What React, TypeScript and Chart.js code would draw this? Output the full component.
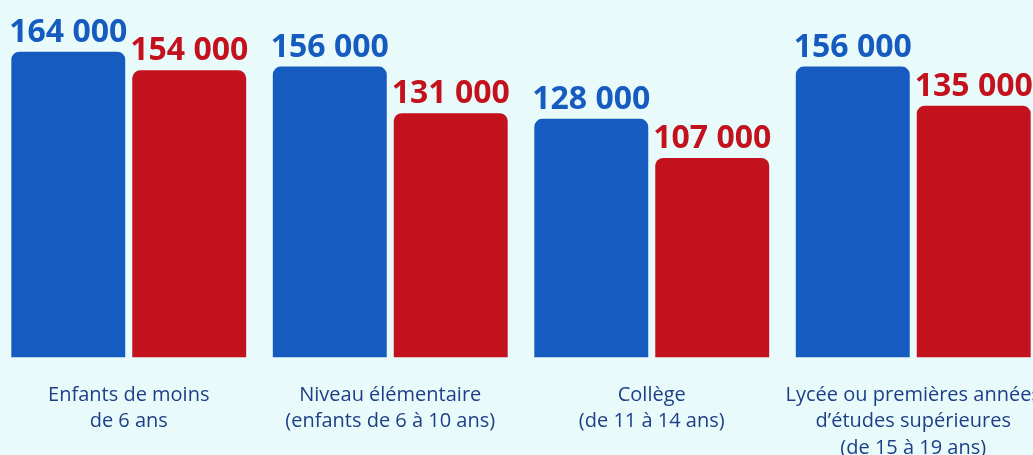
import React, { useEffect, useRef } from "react";
import { Chart, registerables } from "chart.js";

Chart.register(...registerables);

const categories: string[][] = [
  ["Enfants de moins", "de 6 ans"],
  ["Niveau élémentaire", "(enfants de 6 à 10 ans)"],
  ["Collège", "(de 11 à 14 ans)"],
  ["Lycée ou premières années", "d’études supérieures", "(de 15 à 19 ans)"],
];
const seriesBlue: number[] = [164000, 156000, 128000, 156000];
const seriesRed: number[] = [154000, 131000, 107000, 135000];

const BLUE = "#165bbf";
const RED = "#c4111e";
const BG = "#e8fbfa";
const LABEL = "#1e3f88";
const FONT = "'Open Sans', 'Noto Sans', sans-serif";

const fmt = (v: number) => {
  const s = String(Math.round(v));
  return s.replace(/\B(?=(\d{3})+(?!\d))/g, " ");
};

const valueLabels = {
  id: "valueLabels",
  afterDatasetsDraw(chart: any) {
    const ctx = chart.ctx;
    ctx.save();
    ctx.font = `bold 32px ${FONT}`;
    ctx.textAlign = "center";
    ctx.textBaseline = "alphabetic";
    chart.data.datasets.forEach((ds: any, di: number) => {
      const meta = chart.getDatasetMeta(di);
      ctx.fillStyle = ds.backgroundColor;
      meta.data.forEach((el: any, i: number) => {
        ctx.fillText(fmt(ds.data[i]), el.x, el.y - 10);
      });
    });
    ctx.restore();
  },
};

const W = 1046;
const H = 455;

export default function App() {
  const ref = useRef<HTMLCanvasElement | null>(null);
  useEffect(() => {
    let chart: Chart | null = null;
    let cancelled = false;
    const make = () => {
      if (cancelled || !ref.current) return;
      chart = new Chart(ref.current, {
        type: "bar",
        data: {
          labels: categories,
          datasets: [
            {
              data: seriesBlue,
              backgroundColor: BLUE,
              borderRadius: 8,
              borderSkipped: "start",
              categoryPercentage: 0.925,
              barPercentage: 0.942,
            },
            {
              data: seriesRed,
              backgroundColor: RED,
              borderRadius: 8,
              borderSkipped: "start",
              categoryPercentage: 0.925,
              barPercentage: 0.942,
            },
          ],
        },
        options: {
          animation: false,
          responsive: false,
          maintainAspectRatio: false,
          layout: { padding: { top: 40.5, bottom: 0, left: 0, right: 0 } },
          plugins: {
            legend: { display: false },
            tooltip: { enabled: false },
          },
          scales: {
            x: {
              grid: { display: false },
              border: { display: false },
              afterFit: (scale: any) => {
                scale.height = 97.5;
                scale.paddingLeft = 0;
                scale.paddingRight = 0;
              },
              ticks: {
                color: LABEL,
                font: { family: FONT, size: 20, lineHeight: 1.335 },
                padding: 16,
                maxRotation: 0,
                minRotation: 0,
                autoSkip: false,
              },
            },
            y: {
              display: false,
              min: 0,
              max: 170000,
            },
          },
        },
        plugins: [valueLabels],
      });
    };
    const fonts: any = (document as any).fonts;
    if (fonts && fonts.load) {
      Promise.all([
        fonts.load(`bold 32px "Open Sans"`),
        fonts.load(`20px "Open Sans"`),
      ])
        .catch(() => null)
        .then(make);
    } else {
      make();
    }
    return () => {
      cancelled = true;
      if (chart) chart.destroy();
    };
  }, []);

  return (
    <div
      style={{
        position: "fixed",
        left: 0,
        top: 0,
        width: 1033,
        height: 455,
        overflow: "hidden",
        background: BG,
      }}
    >
      <div style={{ position: "absolute", left: -2, top: 0, width: W, height: H }}>
        <canvas ref={ref} width={W} height={H} style={{ display: "block" }} />
      </div>
    </div>
  );
}
